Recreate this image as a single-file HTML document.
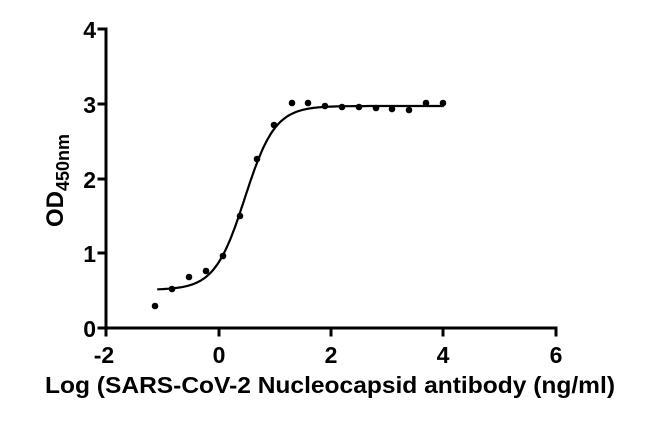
<!DOCTYPE html>
<html><head><meta charset="utf-8"><style>
html,body{margin:0;padding:0;background:#fff;width:655px;height:430px;overflow:hidden}
svg text{font-family:"Liberation Sans",Arial,sans-serif;font-weight:bold;fill:#000}
</style></head><body>
<svg id="s" width="655" height="430" viewBox="0 0 655 430" xmlns="http://www.w3.org/2000/svg">
<g stroke="#000" stroke-width="3" fill="none" stroke-linecap="square">
<line x1="106" y1="29" x2="106" y2="328"/>
<line x1="106" y1="328" x2="556" y2="328"/>
<line x1="99" y1="29" x2="106" y2="29"/>
<line x1="99" y1="104" x2="106" y2="104"/>
<line x1="99" y1="179" x2="106" y2="179"/>
<line x1="99" y1="253" x2="106" y2="253"/>
<line x1="99" y1="328" x2="106" y2="328"/>
<line x1="106" y1="328" x2="106" y2="335"/>
<line x1="219" y1="328" x2="219" y2="335"/>
<line x1="331" y1="328" x2="331" y2="335"/>
<line x1="443" y1="328" x2="443" y2="335"/>
<line x1="556" y1="328" x2="556" y2="335"/>
</g>
<g font-size="23" text-anchor="end">
<text x="96" y="38">4</text><text x="96" y="113">3</text><text x="96" y="188">2</text><text x="96" y="262">1</text><text x="96" y="337">0</text>
</g>
<g font-size="23" text-anchor="middle">
<text x="104" y="363">-2</text><text x="219" y="363">0</text><text x="331" y="363">2</text><text x="443" y="363">4</text><text x="556" y="363">6</text>
</g>
<text x="45" y="393" font-size="23" textLength="570" lengthAdjust="spacingAndGlyphs">Log (SARS-CoV-2 Nucleocapsid antibody (ng/ml)</text>
<text transform="translate(63,227) rotate(-90)" font-size="24">OD<tspan font-size="18" dy="6">450nm</tspan></text>
<path id="c" fill="none" stroke="#000" stroke-width="2.2"/>
<g fill="#000">
<circle cx="155" cy="306" r="3.3"/><circle cx="172" cy="289" r="3.3"/><circle cx="189" cy="277" r="3.3"/><circle cx="206" cy="271" r="3.3"/><circle cx="223" cy="256" r="3.3"/><circle cx="240" cy="216" r="3.3"/><circle cx="257" cy="159" r="3.3"/><circle cx="274" cy="125" r="3.3"/><circle cx="292" cy="103" r="3.3"/><circle cx="308" cy="103" r="3.3"/><circle cx="325" cy="106" r="3.3"/><circle cx="342" cy="107" r="3.3"/><circle cx="359" cy="107" r="3.3"/><circle cx="376" cy="108" r="3.3"/><circle cx="392" cy="109" r="3.3"/><circle cx="409" cy="110" r="3.3"/><circle cx="426" cy="103" r="3.3"/><circle cx="443" cy="103" r="3.3"/>
</g>
</svg>
<script>
var d="";for(var i=0;i<=200;i++){var x=-1.1+5.1*i/200;var y=0.51+2.46/(1+Math.pow(10,(0.46-x)*1.62));var px=219+x*56.2,py=328-y*74.75;d+=(i?"L":"M")+px.toFixed(1)+","+py.toFixed(1);}
document.getElementById("c").setAttribute("d",d);
</script>
</body></html>
